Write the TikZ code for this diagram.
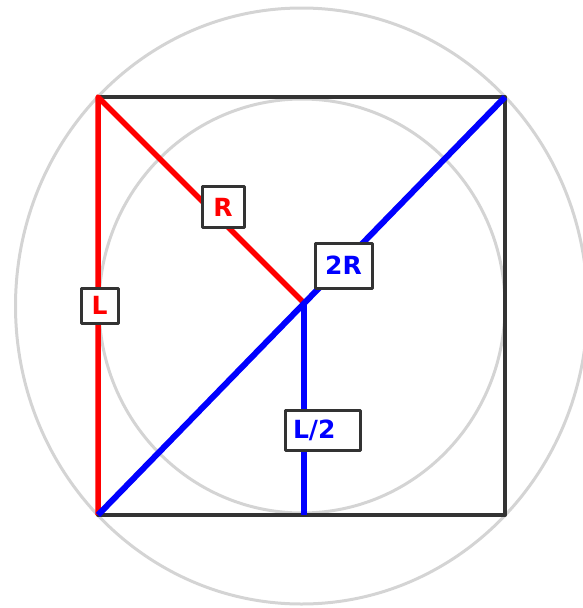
\documentclass[tikz,border=0pt]{standalone}
\usepackage{fontspec}
\setmainfont{DejaVu Sans}
\usetikzlibrary{calc}

\begin{document}
\begin{tikzpicture}[x=1pt, y=-1pt, line join=round,
    lbl/.style={draw=black!80, line width=3pt, fill=white, inner sep=0pt,
        font=\fontsize{25}{25}\selectfont\bfseries}]
    \useasboundingbox (0,0) rectangle (582,608);
    \coordinate (A) at (98,97);
    \coordinate (B) at (505,97);
    \coordinate (C) at (505,515);
    \coordinate (D) at (98,515);
    \coordinate (O) at (304,303);
    \coordinate (M) at (304,515);
    \draw[black!17, line width=3pt] (301.5,306) ellipse (286 and 298);
    \draw[black!17, line width=3pt] (302,306) ellipse (203 and 207);
    \draw[black!80, line width=4pt] (A) -- (B) -- (C) -- (D) -- cycle;
    \draw[red, line width=5.5pt] (D) -- (A) -- (O);
    \draw[blue, line width=6pt] (D) -- (B);
    \draw[blue, line width=5.5pt] (O) -- (M);
    \node[lbl, text=red, minimum width=42, minimum height=41] (lR) at (223,207) {R};
    \node[lbl, text=red, minimum width=37, minimum height=35] (lL) at (99.5,305.5) {L};
    \node[lbl, text=blue, minimum width=57, minimum height=45] (l2R) at (343.5,265.5) {2R};
    \node[lbl, text=blue, inner xsep=8pt, text width=59pt, align=left, minimum height=40] (lhalf) at (322.5,430) {L/2};
\end{tikzpicture}
\end{document}
